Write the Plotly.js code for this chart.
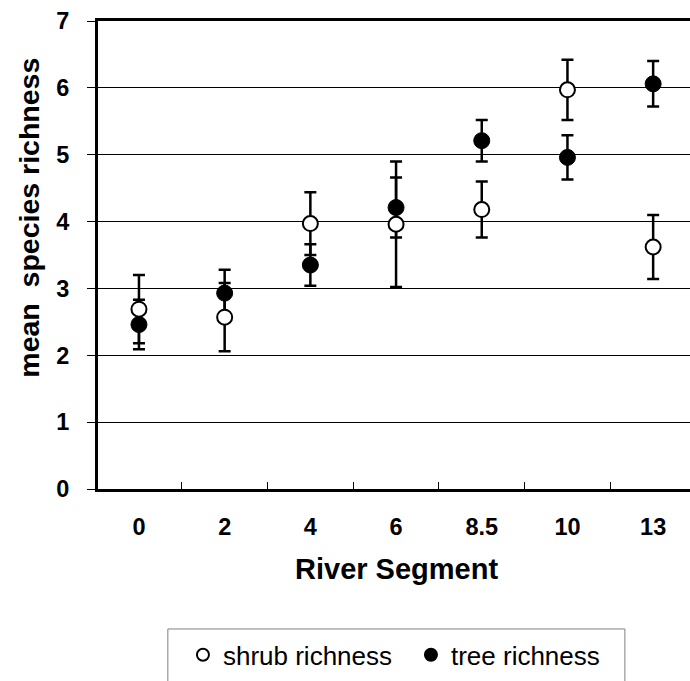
<!DOCTYPE html>
<html>
<head>
<meta charset="utf-8">
<script src="https://cdn.plot.ly/plotly-3.0.1.min.js"></script>
<style>
html, body { margin: 0; padding: 0; background: #fff; overflow: hidden; }
#chart { width: 690px; height: 681px; }
</style>
</head>
<body>
<div id="chart"></div>
<script>
// River segments (categories)
const segments = ['0', '2', '4', '6', '8.5', '10', '13'];
// Mean shrub richness and its error
const shrubRichness = [2.69, 2.57, 3.97, 3.96, 4.18, 5.97, 3.62];
const shrubError = [0.51, 0.51, 0.47, 0.94, 0.42, 0.45, 0.48];
// Mean tree richness and its error
const treeRichness = [2.46, 2.93, 3.35, 4.21, 5.21, 4.96, 6.06];
const treeError = [0.37, 0.35, 0.31, 0.45, 0.31, 0.33, 0.34];
const yTickVals = [0, 1, 2, 3, 4, 5, 6, 7];

const FONT = 'Arial, "Liberation Sans", Helvetica, sans-serif';

const treeTrace = {
  type: 'scatter', mode: 'markers', name: 'tree richness',
  x: segments, y: treeRichness,
  marker: { symbol: 'circle', size: 16, color: '#000', line: { width: 1, color: '#000' } },
  error_y: { type: 'data', array: treeError, visible: true, color: '#000', thickness: 2.5, width: 6 },
  cliponaxis: false
};
const shrubTrace = {
  type: 'scatter', mode: 'markers', name: 'shrub richness',
  x: segments, y: shrubRichness,
  marker: { symbol: 'circle', size: 15, color: '#fff', line: { width: 2, color: '#000' } },
  error_y: { type: 'data', array: shrubError, visible: true, color: '#000', thickness: 2.5, width: 6 },
  cliponaxis: false
};

const layout = {
  width: 690, height: 681,
  margin: { l: 98, r: 0, t: 21, b: 192, pad: 0 },
  paper_bgcolor: '#fff', plot_bgcolor: '#fff',
  font: { family: FONT, color: '#000' },
  showlegend: true,
  legend: {
    orientation: 'h', traceorder: 'reversed', itemsizing: 'constant',
    x: 0.1435, xanchor: 'left', y: -0.3043, yanchor: 'top',
    font: { family: FONT, size: 26, color: '#000' },
    bgcolor: 'rgba(0,0,0,0)', borderwidth: 0,
    entrywidth: 183, entrywidthmode: 'pixels'
  },
  xaxis: {
    type: 'category', categoryorder: 'array', categoryarray: segments,
    range: [-0.478, 6.43],
    showline: true, linewidth: 3, linecolor: '#000', mirror: true,
    ticks: 'inside', ticklen: 7, tickwidth: 1, tickcolor: '#000',
    tickson: 'boundaries',
    showgrid: false, zeroline: false,
    tickfont: { family: FONT, size: 23.5, color: '#000', weight: 'bold' },
    ticklabelstandoff: 15,
    fixedrange: true
  },
  yaxis: {
    range: [0, 7], tickvals: yTickVals, ticktext: yTickVals.map(String),
    showline: true, linewidth: 3, linecolor: '#000',
    ticks: 'outside', ticklen: 8, tickwidth: 1, tickcolor: '#000',
    showgrid: true, gridcolor: '#000', gridwidth: 1, zeroline: false,
    tickfont: { family: FONT, size: 23.5, color: '#000', weight: 'bold' },
    ticklabelstandoff: 13,
    fixedrange: true
  },
  annotations: [
    {
      text: 'mean  species richness', textangle: -90,
      xref: 'paper', yref: 'paper', x: -0.118, y: 0.58,
      xanchor: 'center', yanchor: 'middle', showarrow: false,
      font: { family: FONT, size: 28.5, color: '#000', weight: 'bold' }
    },
    {
      text: 'River Segment',
      xref: 'paper', yref: 'paper', x: 0.504, y: -0.171,
      xanchor: 'center', yanchor: 'middle', showarrow: false,
      font: { family: FONT, size: 29, color: '#000', weight: 'bold' }
    }
  ],
  shapes: [
    {
      type: 'rect', xref: 'paper', yref: 'paper',
      x0: 0.118, x1: 0.890, y0: -0.2991, y1: -0.46,
      line: { color: '#808080', width: 1 }, fillcolor: 'rgba(0,0,0,0)'
    }
  ]
};

Plotly.newPlot('chart', [treeTrace, shrubTrace], layout, { displayModeBar: false, staticPlot: true });
</script>
</body>
</html>
